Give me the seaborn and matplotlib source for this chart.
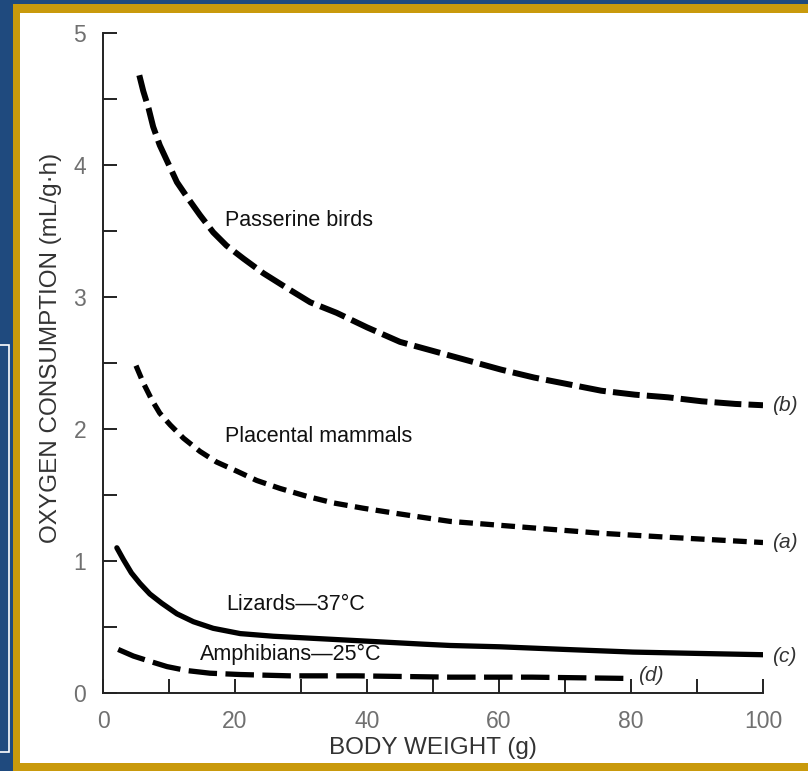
import numpy as np
import pandas as pd
import matplotlib
matplotlib.use('Agg')
import matplotlib.pyplot as plt
from matplotlib.patches import Rectangle
from matplotlib.ticker import MultipleLocator
import seaborn as sns

# values
bird_x = [5.5, 6.1, 6.9, 7.6, 8.6, 9.9, 11.2, 12.7, 14.7, 16.7, 18.7, 21.3, 24.3, 27.8,
          31.4, 35.4, 40, 45, 50.1, 55.2, 60.3, 65.3, 70.4, 75.5, 80.6, 85.6, 90.7, 95.8, 100]
bird_y = [4.68, 4.56, 4.43, 4.29, 4.15, 4.01, 3.87, 3.76, 3.62, 3.49, 3.39, 3.29, 3.18, 3.07,
          2.96, 2.88, 2.77, 2.66, 2.59, 2.52, 2.45, 2.39, 2.34, 2.29, 2.26, 2.24, 2.21, 2.19, 2.18]

mammal_x = [5.0, 6.1, 7.4, 8.6, 10.2, 12.2, 14.7, 17.2, 20.3, 23.3, 26.8, 30.9, 34.9, 39.4,
            44.5, 48.5, 52.6, 55.2, 65.3, 75.5, 85.6, 100]
mammal_y = [2.48, 2.35, 2.22, 2.12, 2.03, 1.93, 1.83, 1.75, 1.68, 1.61, 1.55, 1.49, 1.44, 1.40,
            1.36, 1.33, 1.30, 1.29, 1.25, 1.21, 1.18, 1.14]

lizard_x = [2.1, 3.1, 4.3, 5.6, 7.1, 8.9, 11.2, 13.7, 16.7, 20.8, 25.8, 33.4, 41.0, 48.5,
            52.6, 60.2, 70, 80.3, 90, 100]
lizard_y = [1.10, 1.01, 0.91, 0.83, 0.75, 0.68, 0.60, 0.54, 0.49, 0.45, 0.43, 0.41, 0.39, 0.37,
            0.36, 0.35, 0.33, 0.31, 0.30, 0.29]

amphib_x = [2.3, 4.6, 7.1, 9.7, 12.7, 16.2, 20.8, 28.3, 38.4, 52.6, 65, 80]
amphib_y = [0.33, 0.28, 0.24, 0.20, 0.17, 0.15, 0.14, 0.13, 0.13, 0.12, 0.12, 0.11]

W, H = 808, 771
blue = '#1f4a7e'
gold = '#c99a0c'

sns.set_theme(style='ticks')
plt.rcParams['font.family'] = ['Liberation Sans', 'DejaVu Sans']

fig = plt.figure(figsize=(W / 100, H / 100), dpi=100, facecolor=blue)

# slide frame: gold border, white page, thin white box on the blue strip
fig.patches.append(Rectangle((13 / W, 0), 795 / W, 767 / H, transform=fig.transFigure,
                             facecolor=gold, edgecolor='none', zorder=-10))
fig.patches.append(Rectangle((20 / W, 8 / H), 788 / W, 750 / H, transform=fig.transFigure,
                             facecolor='white', edgecolor='none', zorder=-9))
fig.patches.append(Rectangle((-5 / W, 19 / H), 14 / W, 407 / H, transform=fig.transFigure,
                             facecolor='none', edgecolor='white', lw=1.2, zorder=-9))

ax = fig.add_axes([103 / W, 78 / H, 660 / W, 660 / H])
ax.set_facecolor('none')

joins = dict(solid_joinstyle='round', dash_joinstyle='round')
sns.lineplot(x=bird_x, y=bird_y, ax=ax, color='black', lw=4.3,
             linestyle=(0, (4.5, 1.2)), **joins)
sns.lineplot(x=mammal_x, y=mammal_y, ax=ax, color='black', lw=3.8,
             linestyle=(0, (2.6, 1.4)), **joins)
sns.lineplot(x=lizard_x, y=lizard_y, ax=ax, color='black', lw=3.8, **joins)
sns.lineplot(x=amphib_x, y=amphib_y, ax=ax, color='black', lw=3.8,
             linestyle=(0, (5.4, 1.6)), **joins)

ax.set_xlim(0, 100)
ax.set_ylim(0, 5)
ax.xaxis.set_major_locator(MultipleLocator(20))
ax.xaxis.set_minor_locator(MultipleLocator(10))
ax.yaxis.set_major_locator(MultipleLocator(1))
ax.yaxis.set_minor_locator(MultipleLocator(0.5))
ax.tick_params(which='both', direction='in', length=10, width=1.4, color='#222222',
               labelsize=16.5, labelcolor='#707070', pad=12)

sns.despine(ax=ax)
for s in ['left', 'bottom']:
    ax.spines[s].set_linewidth(1.4)
    ax.spines[s].set_color('#222222')

ax.set_xlabel('BODY WEIGHT (g)', fontsize=17.5, color='#333333')
ax.set_ylabel('OXYGEN CONSUMPTION (mL/g·h)', fontsize=17.5, color='#333333')
ax.xaxis.set_label_coords(0.5, -0.066)
ax.yaxis.set_label_coords(-0.062, 0.523)

txt = dict(fontsize=15.5, color='#111111', va='center')
ax.text(18.5, 3.58, 'Passerine birds', **txt)
ax.text(18.5, 1.94, 'Placental mammals', **txt)
ax.text(18.7, 0.67, 'Lizards—37°C', **txt)
ax.text(14.7, 0.29, 'Amphibians—25°C', **txt)

tag = dict(fontsize=15, color='#333333', va='center', style='italic')
ax.text(101.3, 2.18, '(b)', **tag)
ax.text(101.3, 1.14, '(a)', **tag)
ax.text(101.3, 0.28, '(c)', **tag)
ax.text(81.0, 0.13, '(d)', **tag)

fig.savefig('out.png', dpi=100, facecolor=fig.get_facecolor())
